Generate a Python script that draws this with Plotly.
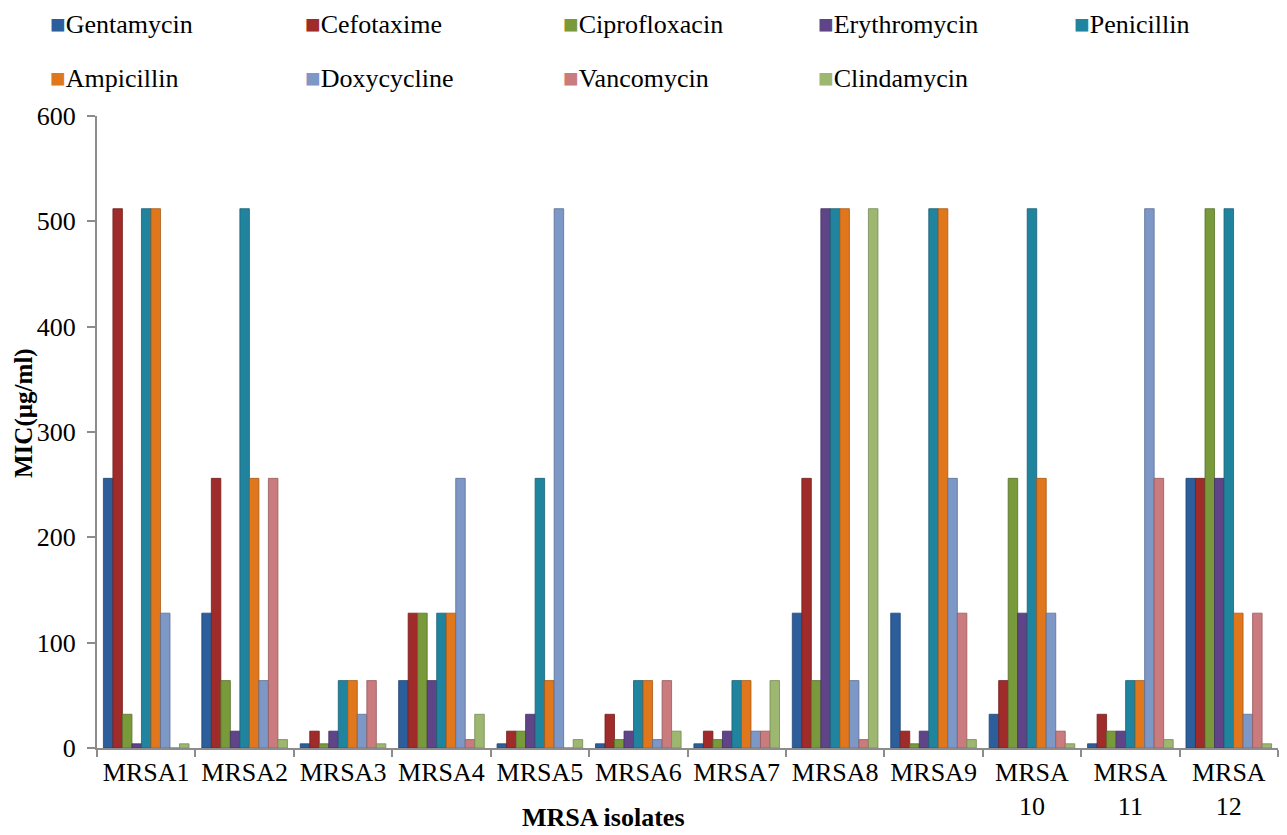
import plotly.graph_objects as go

categories = ["MRSA1", "MRSA2", "MRSA3", "MRSA4", "MRSA5", "MRSA6", "MRSA7",
              "MRSA8", "MRSA9", "MRSA<br>10", "MRSA<br>11", "MRSA<br>12"]

gentamycin    = [256, 128, 4, 64, 4, 4, 4, 128, 128, 32, 4, 256]
cefotaxime    = [512, 256, 16, 128, 16, 32, 16, 256, 16, 64, 32, 256]
ciprofloxacin = [32, 64, 4, 128, 16, 8, 8, 64, 4, 256, 16, 512]
erythromycin  = [4, 16, 16, 64, 32, 16, 16, 512, 16, 128, 16, 256]
penicillin    = [512, 512, 64, 128, 256, 64, 64, 512, 512, 512, 64, 512]
ampicillin    = [512, 256, 64, 128, 64, 64, 64, 512, 512, 256, 64, 128]
doxycycline   = [128, 64, 32, 256, 512, 8, 16, 64, 256, 128, 512, 32]
vancomycin    = [0, 256, 64, 8, 0, 64, 16, 8, 128, 16, 256, 128]
clindamycin   = [4, 8, 4, 32, 8, 16, 64, 512, 8, 4, 8, 4]

series = [
    ("Gentamycin", gentamycin, "#2C5E9C", "#1F4473"),
    ("Cefotaxime", cefotaxime, "#A02B2B", "#741E1E"),
    ("Ciprofloxacin", ciprofloxacin, "#789A3A", "#57702A"),
    ("Erythromycin", erythromycin, "#5F4587", "#443163"),
    ("Penicillin", penicillin, "#21849F", "#185F73"),
    ("Ampicillin", ampicillin, "#E0771C", "#A85814"),
    ("Doxycycline", doxycycline, "#7D97C6", "#5A6F93"),
    ("Vancomycin", vancomycin, "#C97B7D", "#975B5C"),
    ("Clindamycin", clindamycin, "#9DB770", "#758952"),
]

FONT = "Liberation Serif"
W, H = 1279, 827                    # page has an 8px body margin
L, R, T, B = 89, 9, 108, 87
PW, PH = W - L - R, H - T - B
col_x = [41, 296, 554, 809, 1065]   # legend column positions (px, figure coords)
row_y = [17, 71]                    # legend row centres (px, figure coords)

fig = go.Figure()
for i, (name, vals, col, edge) in enumerate(series):
    fig.add_trace(go.Bar(
        name=name, x=categories, y=vals,
        marker=dict(color=col, line=dict(color=edge, width=0.8))))
    r, c = divmod(i, 5)
    # Excel-style legend entry: coloured square + serif label
    fig.add_annotation(
        text=f"<span style=\"color:{col}\">■</span>{name}",
        xref="paper", yref="paper",
        x=(col_x[c] - L) / PW, y=(H - B - row_y[r]) / PH,
        xanchor="left", yanchor="middle", showarrow=False, borderpad=0,
        font=dict(family=FONT, size=26, color="black"))

fig.update_layout(
    width=W, height=H,
    barmode="group", bargap=0.13, bargroupgap=0,
    plot_bgcolor="white", paper_bgcolor="white",
    margin=dict(l=L, r=R, t=T, b=B, autoexpand=False),
    font=dict(family=FONT, size=26, color="black"),
    showlegend=False,
)
fig.update_xaxes(type="category", showline=True, linecolor="#8C8C8C", linewidth=2,
                 ticks="outside", tickson="boundaries", ticklen=7, tickwidth=2,
                 tickcolor="#8C8C8C", showgrid=False,
                 tickfont=dict(family=FONT, size=26))
fig.update_yaxes(range=[0, 600], dtick=100, showline=True, linecolor="#8C8C8C",
                 linewidth=2, ticks="outside", ticklen=8, tickwidth=2,
                 tickcolor="#8C8C8C", showgrid=False, zeroline=False,
                 ticklabelstandoff=6,
                 tickfont=dict(family=FONT, size=26))

fig.add_annotation(text="<b>MRSA isolates</b>", xref="paper", yref="paper",
                   x=(595-L)/PW, y=(H-B-809)/PH, xanchor="center", yanchor="middle",
                   showarrow=False, font=dict(family=FONT, size=26))
fig.add_annotation(text="<b>MIC(µg/ml)</b>", xref="paper", yref="paper",
                   x=(16-L)/PW, y=(H-B-405)/PH, xanchor="center", yanchor="middle",
                   showarrow=False, textangle=-90,
                   font=dict(family=FONT, size=25))

fig.write_html("out.html")
